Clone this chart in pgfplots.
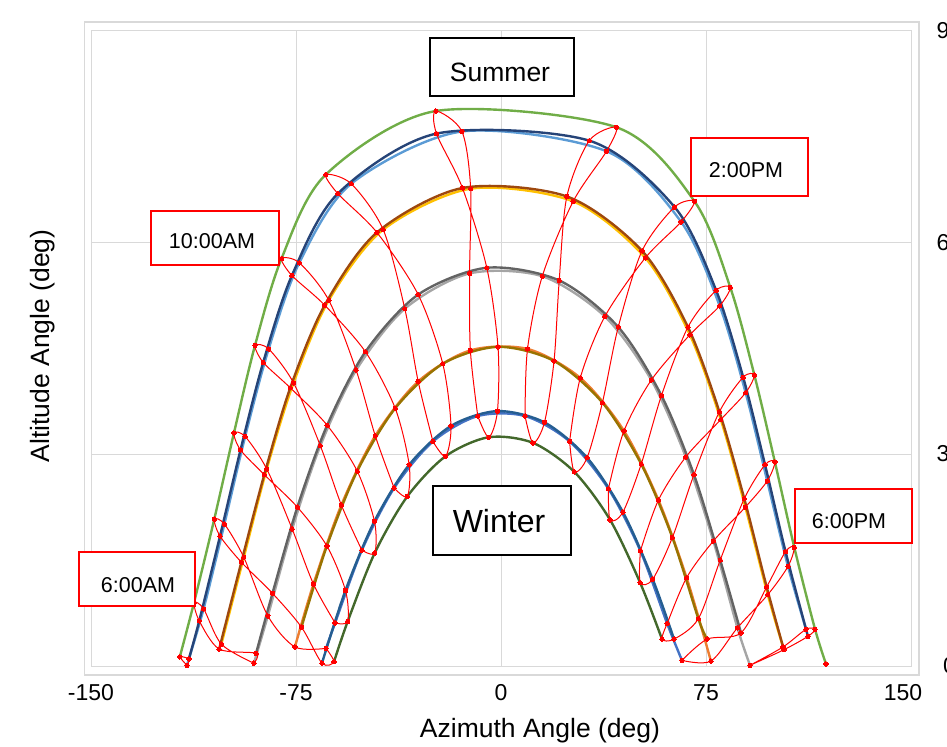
\documentclass[border=0pt]{standalone}
\usepackage{fontspec}
\setmainfont{Liberation Sans}
\usepackage{pgfplots}
\pgfplotsset{compat=1.18}
\definecolor{cJan}{HTML}{4472C4}
\definecolor{cFeb}{HTML}{ED7D31}
\definecolor{cMar}{HTML}{A5A5A5}
\definecolor{cApr}{HTML}{FFC000}
\definecolor{cMay}{HTML}{5B9BD5}
\definecolor{cJun}{HTML}{70AD47}
\definecolor{cJul}{HTML}{264478}
\definecolor{cAug}{HTML}{9E480E}
\definecolor{cSep}{HTML}{636363}
\definecolor{cOct}{HTML}{997300}
\definecolor{cNov}{HTML}{255E91}
\definecolor{cDec}{HTML}{43682B}
\definecolor{gridc}{HTML}{D9D9D9}
\definecolor{hred}{HTML}{FF0000}
\pgfplotsset{
  mo/.style={line width=1.2pt, smooth, no markers},
  hr/.style={hred, line width=0.5pt, smooth, mark=*, mark size=1.1pt, mark options={solid, fill=hred, draw=hred, line width=0pt}},
}
\begin{document}
\begin{tikzpicture}
\draw[gridc, line width=0.6pt] (42.25pt,-11pt) rectangle (459.5pt,-337.5pt);
\begin{axis}[
  at={(45.5pt,-333pt)}, anchor=south west,
  scale only axis, width=410pt, height=317.75pt,
  xmin=-150, xmax=150, ymin=0, ymax=90,
  xtick={-150,-75,0,75,150}, ytick={0,30,60,90},
  xticklabels={}, yticklabels={},
  grid=major, major grid style={draw=gridc, line width=0.5pt},
  axis line style={draw=gridc, line width=0.5pt},
  tick style={draw=none},
]
% month curves
\addplot[mo, cJan] coordinates {(-64.0,2.5) (-60.7,6.1) (-50.9,16.4) (-39.1,25.2) (-24.9,31.8) (-8.5,35.4) (8.8,35.4) (25.1,31.8) (39.3,25.1) (51.0,16.3) (60.8,6.0) (66.2,0.8)};
\addplot[mo, cFeb] coordinates {(-75.4,2.7) (-68.6,11.6) (-58.4,22.8) (-46.0,32.6) (-30.3,40.3) (-11.2,44.7) (9.7,44.9) (29.0,40.8) (45.0,33.3) (57.6,23.5) (67.9,12.5) (76.8,0.7)};
\addplot[mo, cMar] coordinates {(-90.4,0.4) (-85.3,7.1) (-76.4,19.4) (-66.1,31.2) (-53.0,41.9) (-35.2,50.6) (-11.5,55.6) (15.1,55.2) (38.0,49.5) (55.0,40.5) (67.6,29.6) (77.7,17.7) (86.5,5.4) (91.1,0.1)};
\addplot[mo, cApr] coordinates {(-102.3,3.1) (-94.1,15.4) (-85.7,27.9) (-75.9,40.1) (-63.0,51.8) (-43.1,61.8) (-11.1,67.6) (26.4,65.8) (52.8,57.8) (69.1,46.9) (80.4,34.9) (89.4,22.5) (97.6,10.1) (103.2,2.7)};
\addplot[mo, cMay] coordinates {(-114.9,0.1) (-108.8,8.1) (-101.2,20.1) (-93.6,32.5) (-85.0,44.9) (-73.8,57.1) (-54.8,68.3) (-14.3,75.7) (38.6,72.9) (65.9,62.9) (80.0,51.0) (89.5,38.7) (97.4,26.2) (105.0,14.1) (111.6,5.2)};
\addplot[mo, cJun] coordinates {(-117.5,1.3) (-112.3,9.0) (-104.9,20.8) (-97.7,33.0) (-90.0,45.4) (-80.3,57.7) (-64.1,69.6) (-23.8,78.6) (42.2,76.3) (70.8,65.8) (83.9,53.6) (92.7,41.2) (100.2,28.9) (107.3,16.8) (114.9,5.2) (118.9,0.3)};
\addplot[mo, cJul] coordinates {(-114.2,1.0) (-110.4,6.4) (-102.8,18.4) (-95.3,30.6) (-87.0,43.0) (-76.5,55.3) (-59.7,66.9) (-23.6,75.4) (32.3,74.4) (63.5,65.0) (78.7,53.2) (88.6,40.9) (96.6,28.5) (104.1,16.2) (112.3,4.2)};
\addplot[mo, cAug] coordinates {(-103.1,2.4) (-95.0,14.7) (-86.6,27.1) (-77.1,39.4) (-64.5,51.1) (-45.4,61.4) (-14.1,67.7) (24.1,66.5) (51.6,58.8) (68.4,48.0) (79.9,36.0) (89.0,23.7) (97.2,11.2) (103.5,2.3)};
\addplot[mo, cSep] coordinates {(-89.6,1.8) (-83.6,10.3) (-74.5,22.5) (-63.6,34.1) (-49.6,44.5) (-30.3,52.6) (-5.2,56.4) (21.3,54.6) (42.9,48.0) (58.7,38.3) (70.6,27.1) (80.2,15.0) (87.8,4.7)};
\addplot[mo, cOct] coordinates {(-73.0,5.5) (-63.7,17.0) (-52.6,27.6) (-38.7,36.5) (-21.3,42.8) (-1.1,45.2) (19.4,43.2) (37.1,37.3) (51.3,28.6) (62.7,18.2) (72.2,6.7) (75.4,3.8)};
\addplot[mo, cNov] coordinates {(-65.5,0.4) (-56.9,10.7) (-46.3,20.5) (-33.6,28.5) (-18.3,34.0) (-1.3,36.1) (15.9,34.5) (31.5,29.5) (44.6,21.8) (55.5,12.3) (63.3,3.8)};
\addplot[mo, cDec] coordinates {(-61.1,0.6) (-56.1,6.3) (-46.2,16.0) (-34.3,24.0) (-20.3,29.7) (-4.5,32.4) (11.7,31.6) (26.8,27.5) (39.9,20.7) (50.9,11.8) (58.9,3.8)};
% hour loops
\addplot[hr] coordinates {(-114.9,0.1) (-117.5,1.3) (-114.2,1.0) (-114.9,0.1)};
\addplot[hr] coordinates {(-90.4,0.4) (-102.3,3.1) (-108.8,8.1) (-112.3,9.0) (-110.4,6.4) (-103.1,2.4) (-89.6,1.8) (-90.4,0.4)};
\addplot[hr] coordinates {(-64.0,2.5) (-75.4,2.7) (-85.3,7.1) (-94.1,15.4) (-101.2,20.1) (-104.9,20.8) (-102.8,18.4) (-95.0,14.7) (-83.6,10.3) (-73.0,5.5) (-65.5,0.4) (-61.1,0.6) (-64.0,2.5)};
\addplot[hr] coordinates {(-60.7,6.1) (-68.6,11.6) (-76.4,19.4) (-85.7,27.9) (-93.6,32.5) (-97.7,33.0) (-95.3,30.6) (-86.6,27.1) (-74.5,22.5) (-63.7,17.0) (-56.9,10.7) (-56.1,6.3) (-60.7,6.1)};
\addplot[hr] coordinates {(-50.9,16.4) (-58.4,22.8) (-66.1,31.2) (-75.9,40.1) (-85.0,44.9) (-90.0,45.4) (-87.0,43.0) (-77.1,39.4) (-63.6,34.1) (-52.6,27.6) (-46.3,20.5) (-46.2,16.0) (-50.9,16.4)};
\addplot[hr] coordinates {(-39.1,25.2) (-46.0,32.6) (-53.0,41.9) (-63.0,51.8) (-73.8,57.1) (-80.3,57.7) (-76.5,55.3) (-64.5,51.1) (-49.6,44.5) (-38.7,36.5) (-33.6,28.5) (-34.3,24.0) (-39.1,25.2)};
\addplot[hr] coordinates {(-24.9,31.8) (-30.3,40.3) (-35.2,50.6) (-43.1,61.8) (-54.8,68.3) (-64.1,69.6) (-59.7,66.9) (-45.4,61.4) (-30.3,52.6) (-21.3,42.8) (-18.3,34.0) (-20.3,29.7) (-24.9,31.8)};
\addplot[hr] coordinates {(-8.5,35.4) (-11.2,44.7) (-11.5,55.6) (-11.1,67.6) (-14.3,75.7) (-23.8,78.6) (-23.6,75.4) (-14.1,67.7) (-5.2,56.4) (-1.1,45.2) (-1.3,36.1) (-4.5,32.4) (-8.5,35.4)};
\addplot[hr] coordinates {(8.8,35.4) (9.7,44.9) (15.1,55.2) (26.4,65.8) (38.6,72.9) (42.2,76.3) (32.3,74.4) (24.1,66.5) (21.3,54.6) (19.4,43.2) (15.9,34.5) (11.7,31.6) (8.8,35.4)};
\addplot[hr] coordinates {(25.1,31.8) (29.0,40.8) (38.0,49.5) (52.8,57.8) (65.9,62.9) (70.8,65.8) (63.5,65.0) (51.6,58.8) (42.9,48.0) (37.1,37.3) (31.5,29.5) (26.8,27.5) (25.1,31.8)};
\addplot[hr] coordinates {(39.3,25.1) (45.0,33.3) (55.0,40.5) (69.1,46.9) (80.0,51.0) (83.9,53.6) (78.7,53.2) (68.4,48.0) (58.7,38.3) (51.3,28.6) (44.6,21.8) (39.9,20.7) (39.3,25.1)};
\addplot[hr] coordinates {(51.0,16.3) (57.6,23.5) (67.6,29.6) (80.4,34.9) (89.5,38.7) (92.7,41.2) (88.6,40.9) (79.9,36.0) (70.6,27.1) (62.7,18.2) (55.5,12.3) (50.9,11.8) (51.0,16.3)};
\addplot[hr] coordinates {(60.8,6.0) (67.9,12.5) (77.7,17.7) (89.4,22.5) (97.4,26.2) (100.2,28.9) (96.6,28.5) (89.0,23.7) (80.2,15.0) (72.2,6.7) (63.3,3.8) (58.9,3.8) (60.8,6.0)};
\addplot[hr] coordinates {(66.2,0.8) (76.8,0.7) (86.5,5.4) (97.6,10.1) (105.0,14.1) (107.3,16.8) (104.1,16.2) (97.2,11.2) (87.8,4.7) (75.4,3.8) (66.2,0.8)};
\addplot[hr] coordinates {(91.1,0.1) (103.2,2.7) (111.6,5.2) (114.9,5.2) (112.3,4.2) (103.5,2.3) (91.1,0.1)};
\addplot[hr, only marks] coordinates {(118.9,0.3)};
\end{axis}
% tick labels
\begin{scope}[every node/.style={font=\fontsize{11.5}{13}\selectfont, inner sep=0pt}]
\node at (45.5pt,-346.5pt) {-150};
\node at (148pt,-346.5pt) {-75};
\node at (250.5pt,-346.5pt) {0};
\node at (353pt,-346.5pt) {75};
\node at (451.5pt,-346.5pt) {150};
\node at (474.75pt,-15.25pt) {90};
\node at (474.75pt,-121.2pt) {60};
\node at (474.75pt,-227pt) {30};
\node at (474.75pt,-333pt) {0};
\end{scope}
% axis titles
\node[font=\fontsize{13.25}{15}\selectfont, inner sep=0pt] at (270pt,-365.5pt) {Azimuth Angle (deg)};
\node[font=\fontsize{13.25}{15}\selectfont, inner sep=0pt, rotate=90] at (21.5pt,-173pt) {Altitude Angle (deg)};
% text boxes
\draw[black, line width=0.75pt, fill=white] (215pt,-19pt) rectangle (287pt,-48pt);
\node[font=\fontsize{13.25}{15}\selectfont, inner sep=0pt] at (250pt,-36pt) {Summer};
\draw[black, line width=0.75pt, fill=white] (216.5pt,-243pt) rectangle (285.5pt,-277.5pt);
\node[font=\fontsize{16}{18}\selectfont, inner sep=0pt] at (249.5pt,-260.5pt) {Winter};
\draw[hred, line width=1pt, fill=white] (75.5pt,-105.5pt) rectangle (139.5pt,-132.5pt);
\node[font=\fontsize{10.75}{12}\selectfont, inner sep=0pt] at (106pt,-120.5pt) {10:00AM};
\draw[hred, line width=1pt, fill=white] (345.5pt,-69pt) rectangle (404pt,-98pt);
\node[font=\fontsize{10.75}{12}\selectfont, inner sep=0pt] at (373pt,-85pt) {2:00PM};
\draw[hred, line width=1pt, fill=white] (39.5pt,-276pt) rectangle (97.5pt,-303pt);
\node[font=\fontsize{10.75}{12}\selectfont, inner sep=0pt] at (69pt,-292.5pt) {6:00AM};
\draw[hred, line width=1pt, fill=white] (397.5pt,-244.5pt) rectangle (456pt,-271.5pt);
\node[font=\fontsize{10.75}{12}\selectfont, inner sep=0pt] at (424.5pt,-260.5pt) {6:00PM};
\pgfresetboundingbox
\useasboundingbox (0pt,0pt) rectangle (473.5pt,-373.5pt);
\end{tikzpicture}
\end{document}
